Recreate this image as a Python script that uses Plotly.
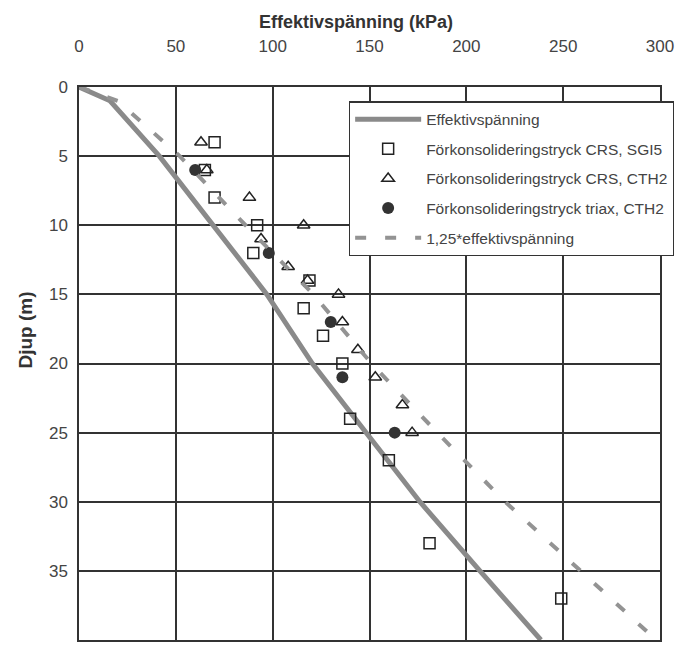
import plotly.graph_objects as go

# Effective stress line (kPa) vs depth (m)
eff_depth = [0, 1, 5, 10, 15, 20, 25, 30, 35, 40]
eff_stress = [0, 16, 41.5, 69, 97, 120.5, 148, 176, 207, 238.5]
# 1.25 * effective stress
eff125_stress = [0, 20, 52, 86, 121, 151, 185, 220, 259, 298]

# Preconsolidation pressure CRS, SGI5
sgi5_x = [70, 65, 70, 92, 90, 119, 116, 126, 136, 140, 160, 181, 249]
sgi5_y = [4, 6, 8, 10, 12, 14, 16, 18, 20, 24, 27, 33, 37]

# Preconsolidation pressure CRS, CTH2
cth2_x = [63, 66, 88, 116, 94, 108, 118, 134, 136, 144, 153, 167, 172]
cth2_y = [4, 6, 8, 10, 11, 13, 14, 15, 17, 19, 21, 23, 25]

# Preconsolidation pressure triax, CTH2
triax_x = [60, 98, 130, 136, 163]
triax_y = [6, 12, 17, 21, 25]

x_ticks = [0, 50, 100, 150, 200, 250, 300]
y_ticks = [0, 5, 10, 15, 20, 25, 30, 35, 40]

fig = go.Figure()
fig.add_trace(go.Scatter(
    x=eff_stress, y=eff_depth, mode="lines", name="Effektivspänning",
    line=dict(color="#8a8a8a", width=5), legendgroup="a"))
fig.add_trace(go.Scatter(
    x=sgi5_x, y=sgi5_y, mode="markers", name="Förkonsolideringstryck CRS, SGI5",
    marker=dict(symbol="square-open", size=11, color="#222", line=dict(width=1.5)),
    legendgroup="b"))
fig.add_trace(go.Scatter(
    x=cth2_x, y=cth2_y, mode="markers", name="Förkonsolideringstryck CRS, CTH2",
    marker=dict(symbol="triangle-up-open", size=11, color="#222", line=dict(width=1.5)),
    legendgroup="c"))
fig.add_trace(go.Scatter(
    x=triax_x, y=triax_y, mode="markers", name="Förkonsolideringstryck triax, CTH2",
    marker=dict(symbol="circle", size=12, color="#333"),
    legendgroup="d"))
fig.add_trace(go.Scatter(
    x=eff125_stress, y=eff_depth, mode="lines", name="1,25*effektivspänning",
    line=dict(color="#939393", width=4, dash="11px,19px"), legendgroup="e"))

fig.update_layout(
    width=680, height=646,
    margin=dict(l=79, r=17, t=87, b=6),
    paper_bgcolor="white", plot_bgcolor="white",
    font=dict(family="Liberation Sans, Arial, sans-serif", color="#3a3a3a", size=14),
    xaxis=dict(
        side="top", range=[0, 300], tickvals=x_ticks, ticks="",
        automargin=False, ticklabelstandoff=26,
        showgrid=True, gridcolor="#333", gridwidth=1.5,
        showline=True, linecolor="#333", linewidth=1.5, mirror=True,
        zeroline=False,
        tickfont=dict(size=17, color="#444"),
    ),
    yaxis=dict(
        range=[40, 0], tickvals=y_ticks, ticks="",
        automargin=False, ticklabelstandoff=6,
        showgrid=True, gridcolor="#333", gridwidth=1.5,
        showline=True, linecolor="#333", linewidth=1.5, mirror=True,
        zeroline=False,
        tickfont=dict(size=17, color="#444"),
    ),
    legend=dict(
        x=1.024, y=0.974, xanchor="right", yanchor="top",
        bgcolor="white", bordercolor="#333", borderwidth=1.2,
        font=dict(size=15.5, color="#444"),
        traceorder="grouped", tracegroupgap=6.5, itemwidth=66,
    ),
    showlegend=True,
    annotations=[
        dict(text="<b>Effektivspänning (kPa)</b>", xref="paper", yref="paper",
             x=0.476, y=1.1175, xanchor="center", yanchor="middle", showarrow=False,
             font=dict(size=18, color="#333")),
        dict(text="<b>Djup (m)</b>", xref="paper", yref="paper", textangle=-90,
             x=-0.0925, y=0.560, xanchor="center", yanchor="middle", showarrow=False,
             font=dict(size=19, color="#333")),
    ],
)

fig.write_html(
    "out.html",
    config={"displayModeBar": False},
    post_script="document.body.style.margin='0';document.body.style.overflow='hidden';",
)
